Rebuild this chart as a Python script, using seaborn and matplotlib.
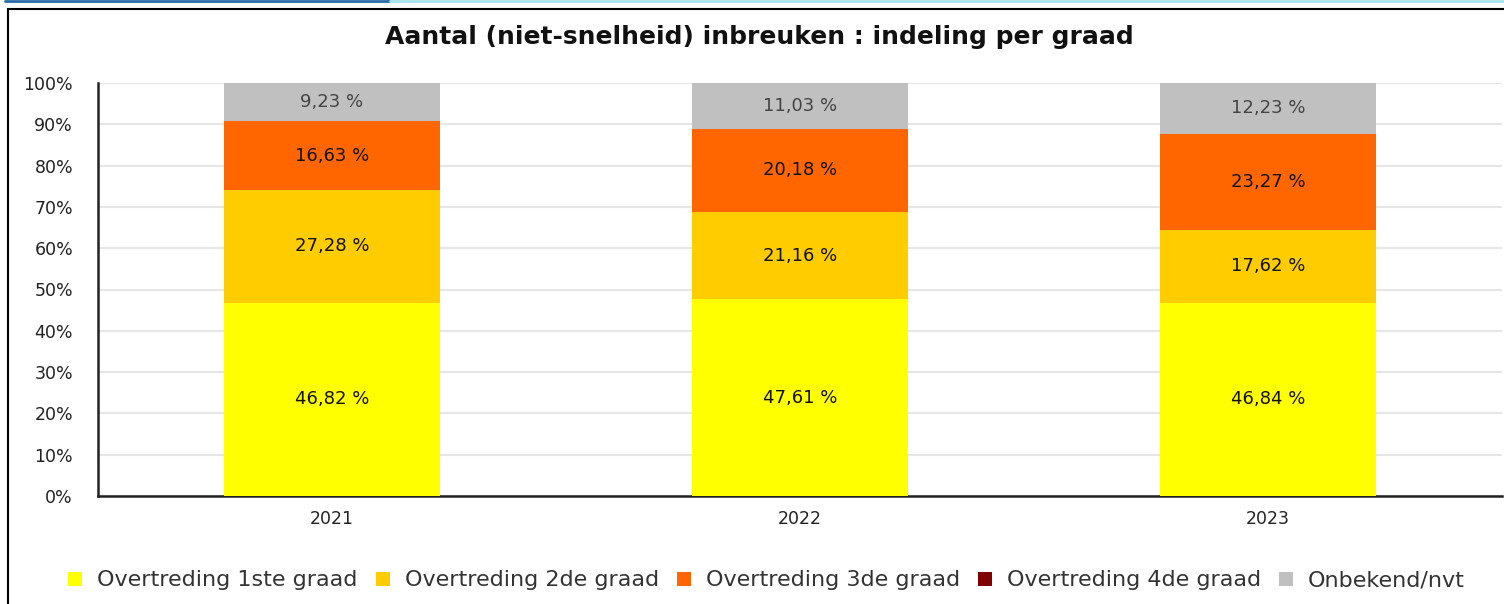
import matplotlib
matplotlib.use("Agg")
import matplotlib.pyplot as plt
import seaborn as sns
import numpy as np
from matplotlib.lines import Line2D
from matplotlib.patches import Rectangle

years = ["2021", "2022", "2023"]
series_names = ["Overtreding 1ste graad", "Overtreding 2de graad", "Overtreding 3de graad",
                "Overtreding 4de graad", "Onbekend/nvt"]
graad1 = [46.82, 47.61, 46.84]
graad2 = [27.28, 21.16, 17.62]
graad3 = [16.63, 20.18, 23.27]
graad4 = [0.04, 0.02, 0.04]
onbekend = [9.23, 11.03, 12.23]
colors = ["#FFFF00", "#FFCC00", "#FF6600", "#800000", "#C0C0C0"]
label_colors = ["#111111", "#111111", "#111111", "#111111", "#444444"]
yticks = list(range(0, 101, 10))

sns.set_style("white")
plt.rcParams['font.family'] = ['DejaVu Sans']

W, H = 1504, 604
fig = plt.figure(figsize=(W / 100, H / 100), dpi=100)
ax = fig.add_axes([98/W, 1-496/H, (1502-98)/W, (496-83)/H])

series = [graad1, graad2, graad3, graad4, onbekend]
bottom = np.zeros(len(years))
for name, vals, col, lc in zip(series_names, series, colors, label_colors):
    sns.barplot(x=years, y=vals, bottom=bottom, color=col, width=0.46, ax=ax,
                saturation=1, linewidth=0, zorder=3)
    cont = ax.containers[-1]
    if name != "Overtreding 4de graad":
        labels = [f"{v:.2f}".replace(".", ",") + " %" for v in vals]
        ax.bar_label(cont, labels=labels, label_type="center", fontsize=13, color=lc)
    bottom = bottom + np.array(vals)

ax.set_xlim(-0.5, 2.5)
ax.set_ylim(0, 100)
ax.set_yticks(yticks)
ax.set_yticklabels([f"{t}%" for t in yticks])
ax.yaxis.grid(True, color="#e6e6e6", linewidth=1.5, zorder=0)
ax.set_axisbelow(True)
ax.set_xticks([0, 1, 2])
ax.set_xticks([-0.5, 0.5, 1.5, 2.5], minor=True)
ax.tick_params(axis="x", which="major", length=0, pad=10, labelsize=12.5, labelcolor="#222222")
ax.tick_params(axis="x", which="minor", length=6, width=1.8, color="#222222", direction="out")
ax.tick_params(axis="y", length=8, width=1.8, color="#222222", pad=10, labelsize=12.5,
               labelcolor="#222222", direction="out")
for s in ["top", "right"]:
    ax.spines[s].set_visible(False)
for s in ["left", "bottom"]:
    ax.spines[s].set_color("#222222")
    ax.spines[s].set_linewidth(1.8)
ax.set_xlabel("")
ax.set_ylabel("")

fig.text(0.505, 1-37/H, "Aantal (niet-snelheid) inbreuken : indeling per graad",
         ha="center", va="center", fontsize=18, fontweight="bold", color="#111111")

# Legend laid out manually so all labels share one baseline
renderer = fig.canvas.get_renderer()
marker_w, gap_mt, gap_tm = 14, 15, 18
baseline_px, marker_cy = 586, 578.5
texts = []
widths = []
for name in series_names:
    t = fig.text(0, 1 - baseline_px / H, name, fontsize=16, color="#333333",
                 ha="left", va="baseline")
    texts.append(t)
    widths.append(t.get_window_extent(renderer).width)
total = sum(marker_w + gap_mt + w for w in widths) + gap_tm * (len(widths) - 1)
x = (63 + 1470) / 2 - total / 2
for t, w, c in zip(texts, widths, colors):
    fig.add_artist(Rectangle((x / W, 1 - (marker_cy + marker_w / 2) / H), marker_w / W,
                             marker_w / H, transform=fig.transFigure, facecolor=c,
                             edgecolor="none"))
    t.set_x((x + marker_w + gap_mt) / W)
    x += marker_w + gap_mt + w + gap_tm

fig.add_artist(Rectangle((8/W, -0.1), 1.2, 1-9/H+0.1, transform=fig.transFigure,
                         fill=False, edgecolor="black", linewidth=1.5))
fig.add_artist(Line2D([5/W, 390/W], [0.998, 0.998], transform=fig.transFigure,
                      color="#2a6aa8", linewidth=2))
fig.add_artist(Line2D([390/W, 1], [0.998, 0.998], transform=fig.transFigure,
                      color="#a8e2ea", linewidth=2))

fig.savefig("out.png", dpi=100)
